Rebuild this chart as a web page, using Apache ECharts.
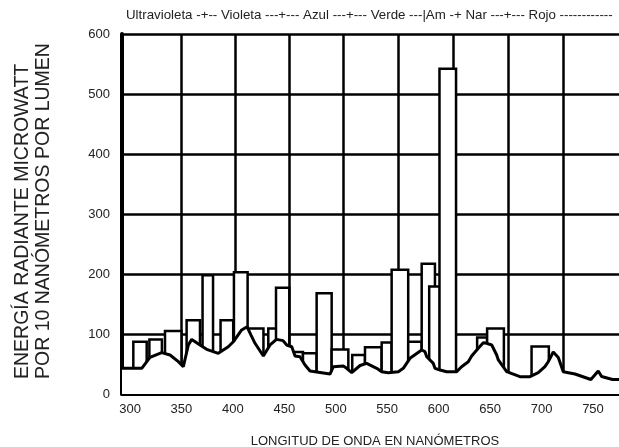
<!DOCTYPE html>
<html>
<head>
<meta charset="utf-8">
<script src="https://cdn.jsdelivr.net/npm/echarts@6/dist/echarts.min.js"></script>
<style>
  html, body { margin: 0; padding: 0; background: #fff; }
  #chart { width: 619px; height: 447px; }
</style>
</head>
<body>
<div id="chart"></div>
<script>
// espectro continuo (curva) en nm
var curveX = [292.2, 311.4, 319.4, 330.8, 338.9, 347, 351.8, 356.7, 360, 368, 374.5, 385.8, 395.5, 400.4, 408.5, 413.8, 417.6, 421.5, 429.6, 436.1, 442.4, 448.7, 452.3, 457.2, 460.4, 465.2, 470.1, 475, 494.4, 497.6, 507.3, 510.6, 515.5, 523.6, 530, 539.8, 544.6, 551, 560.8, 565.6, 572.1, 583.5, 586.7, 588.4, 594.8, 596.4, 601.3, 607.8, 617.5, 622.3, 628.8, 632.1, 638.5, 643.4, 646.7, 651.6, 656.4, 658, 666.1, 679, 688.8, 696.8, 703.3, 706.5, 711.4, 716.3, 721.1, 732.5, 748, 755.1, 758.4, 769, 775.3];
var curveY = [42.8, 42.8, 61, 69, 65, 54, 45.5, 81.7, 91, 81.7, 74.5, 67.8, 78.8, 87, 106.7, 112, 98, 84.5, 63.3, 81.7, 91, 89, 81.7, 78.8, 63.3, 62, 48.3, 38.3, 33.3, 45.5, 46.7, 42.8, 35.5, 47.5, 51, 42.8, 37.2, 35.5, 37.2, 42.8, 59.5, 73.3, 70.5, 62, 51, 42.8, 40, 37.2, 37.2, 45.5, 53.8, 63.3, 76.2, 85.5, 84.5, 81.7, 65, 56.7, 37.2, 28.8, 28.8, 35.5, 45.5, 53.8, 70, 61, 37.2, 33.3, 24.2, 38.3, 29.2, 24.2, 24.2];

// bandas (barras), en orden de dibujo
var barStart = [303.2, 318.8, 334, 355, 370.5, 388, 401, 414.3, 434.4, 441.9, 458.4, 468.1, 481.4, 496, 516, 528.4, 544.6, 554.3, 570.4, 583.5, 590.8, 600.8, 637.4, 647.1, 690.3];
var barEnd = [316.2, 331, 350, 368, 380.7, 400.3, 414.3, 429.7, 447.4, 454.8, 468.1, 481.4, 496, 512.2, 528.4, 544.6, 554.3, 570.4, 583.5, 596.4, 601.3, 616.9, 647.1, 663.4, 707.1];
var barValue = [87, 91, 105, 123, 198, 123, 203, 109, 109, 177, 70, 68, 168, 74, 65, 78, 86, 207, 87, 217, 179, 542, 94, 109, 79];

var xTicks = [300, 350, 400, 450, 500, 550, 600, 650, 700, 750];
var gridX = [350, 402, 454.5, 507, 560.5, 614, 667.5, 721];

var font = "'Liberation Sans', Arial, sans-serif";

var curveData = curveX.map(function (x, i) { return [x, curveY[i]]; });
var barData = barStart.map(function (s, i) { return [s, barEnd[i], barValue[i]]; });

var chart = echarts.init(document.getElementById('chart'));
chart.setOption({
  animation: false,
  backgroundColor: '#fff',
  grid: { left: 122, right: 0, top: 34, bottom: 53 },
  xAxis: {
    type: 'value',
    min: 292.2,
    max: 775.3,
    axisLine: { lineStyle: { color: '#000', width: 4 } },
    axisTick: { show: false },
    splitLine: { show: false },
    axisLabel: {
      customValues: xTicks,
      margin: 9,
      fontSize: 13,
      color: '#222',
      fontFamily: font
    }
  },
  yAxis: {
    type: 'value',
    min: 0,
    max: 600,
    interval: 100,
    axisLine: { show: true, lineStyle: { color: '#000', width: 4 } },
    axisTick: { show: false },
    splitLine: { lineStyle: { color: '#000', width: 2.5 } },
    axisLabel: { margin: 12, fontSize: 13, color: '#222', fontFamily: font }
  },
  series: [
    {
      // lineas verticales de la cuadricula
      type: 'line',
      data: [],
      z: 1,
      markLine: {
        silent: true,
        z: 1,
        symbol: ['none', 'none'],
        label: { show: false },
        lineStyle: { color: '#000', width: 2.5, type: 'solid' },
        data: gridX.map(function (v) { return { xAxis: v }; })
      }
    },
    {
      type: 'custom',
      z: 2,
      data: barData,
      encode: { x: [0, 1], y: 2 },
      renderItem: function (params, api) {
        var p0 = api.coord([api.value(0), api.value(2)]);
        var p1 = api.coord([api.value(1), 0]);
        return {
          type: 'rect',
          shape: { x: p0[0], y: p0[1], width: p1[0] - p0[0], height: p1[1] - p0[1] },
          style: { fill: '#fff', stroke: '#000', lineWidth: 2.5 }
        };
      }
    },
    {
      type: 'line',
      z: 3,
      data: curveData,
      symbol: 'none',
      lineStyle: { color: '#000', width: 3 },
      areaStyle: { color: '#fff', opacity: 1 }
    }
  ],
  graphic: [
    {
      type: 'text',
      x: 126,
      y: 9,
      style: {
        text: 'Ultravioleta -+-- Violeta ---+--- Azul ---+--- Verde ---|Am -+ Nar ---+--- Rojo ------------',
        fontSize: 13.3, fontFamily: font, fill: '#222',
        align: 'left', verticalAlign: 'top', textAlign: 'left', textVerticalAlign: 'top'
      }
    },
    {
      type: 'text',
      x: 375,
      y: 441,
      style: {
        text: 'LONGITUD DE ONDA EN NANÓMETROS',
        fontSize: 13, fontFamily: font, fill: '#222',
        align: 'center', verticalAlign: 'middle', textAlign: 'center', textVerticalAlign: 'middle'
      }
    },
    {
      type: 'text',
      x: 12,
      y: 379,
      rotation: Math.PI / 2,
      style: {
        text: 'ENERGÍA RADIANTE MICROWATT\nPOR 10 NANÓMETROS POR LUMEN',
        fontSize: 19.5, fontFamily: font, fill: '#222', lineHeight: 21,
        align: 'left', verticalAlign: 'top', textAlign: 'left', textVerticalAlign: 'top'
      }
    }
  ]
});
</script>
</body>
</html>
